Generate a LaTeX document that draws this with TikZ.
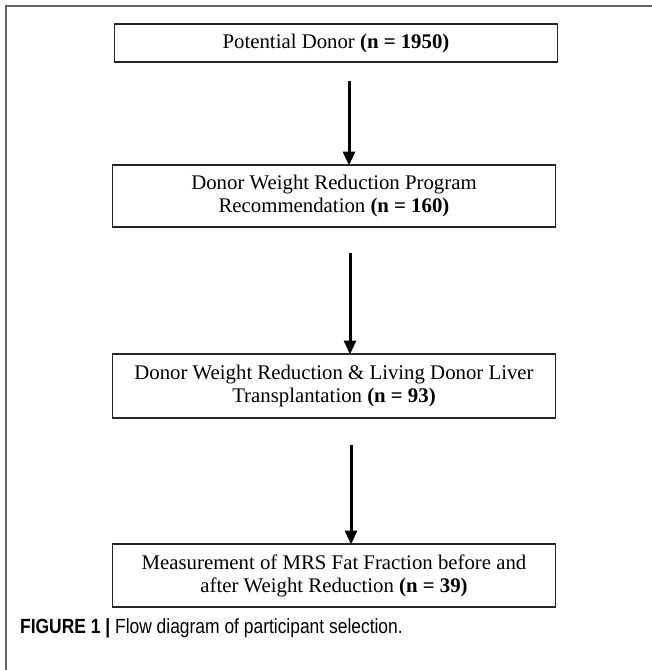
\documentclass[tikz,border=0pt]{standalone}
\usepackage{fontspec}
\setmainfont{Liberation Serif}
\newfontfamily\capfont[FakeStretch=0.85]{Liberation Sans}
\usetikzlibrary{arrows.meta}
\tikzset{
  flowbox/.style={draw=black!85, line width=1.8pt, minimum width=443pt, align=center, inner sep=0pt,
    font=\fontsize{20.8}{23}\selectfont},
  flowarrow/.style={line width=3pt, -{Triangle[length=14pt,width=12pt]}},
  frameline/.style={draw=black!60, line width=1.8pt}
}
\begin{document}
\begin{tikzpicture}[x=1pt,y=-1pt]
\useasboundingbox[fill=white] (0,0) rectangle (652,670);
\draw[frameline] (6,670) -- (6,6) -- (652,6);
\node[flowbox, minimum height=38pt] (b1) at (336,43) {Potential Donor \textbf{(n = 1950)}};
\node[flowbox, minimum height=62pt] (b2) at (334,196) {Donor Weight Reduction Program\\Recommendation \textbf{(n = 160)}};
\node[flowbox, minimum height=64pt] (b3) at (334,386) {Donor Weight Reduction \& Living Donor Liver\\Transplantation \textbf{(n = 93)}};
\node[flowbox, minimum height=63pt] (b4) at (334,575.5) {Measurement of MRS Fat Fraction before and\\after Weight Reduction \textbf{(n = 39)}};
\coordinate (a1s) at (349,81);
\coordinate (a1e) at (349,165.5);
\coordinate (a2s) at (350,253);
\coordinate (a2e) at (350,354.5);
\coordinate (a3s) at (351,445);
\coordinate (a3e) at (351,544.5);
\draw[flowarrow] (a1s) -- (a1e);
\draw[flowarrow] (a2s) -- (a2e);
\draw[flowarrow] (a3s) -- (a3e);
\node[anchor=west, inner sep=0pt, font=\capfont\fontsize{20.5}{22}\selectfont] (cap) at (20,628)
  {\textbf{FIGURE 1 |} Flow diagram of participant selection.};
\end{tikzpicture}
\end{document}
